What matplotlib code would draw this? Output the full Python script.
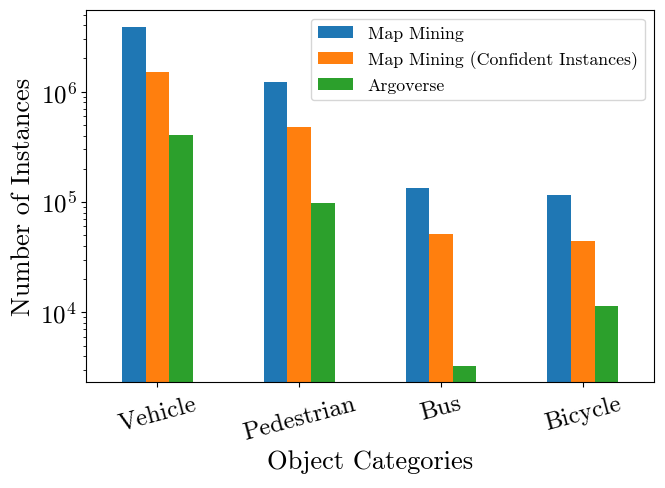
import numpy as np
import pandas as pd
import matplotlib
matplotlib.use("Agg")
import matplotlib.pyplot as plt

plt.rcParams['font.family'] = 'serif'
plt.rcParams['font.serif'] = ['cmr10']
plt.rcParams['mathtext.fontset'] = 'cm'
plt.rcParams['axes.formatter.use_mathtext'] = True

categories = ["Vehicle", "Pedestrian", "Bus", "Bicycle"]
map_mining = [3.88e6, 1.22e6, 1.34e5, 1.15e5]
map_mining_conf = [1.51e6, 4.79e5, 5.1e4, 4.4e4]
argoverse = [4.03e5, 9.7e4, 3.28e3, 1.13e4]

df = pd.DataFrame({
    "Map Mining": map_mining,
    "Map Mining (Confident Instances)": map_mining_conf,
    "Argoverse": argoverse,
}, index=categories)

fig, ax = plt.subplots(figsize=(6.65, 4.89), dpi=100)
fig.subplots_adjust(left=0.13, right=0.983, top=0.978, bottom=0.216)
df.plot.bar(ax=ax, logy=True, legend=False)
ax.set_ylim(2317, 5.53e6)
ax.set_xticklabels(categories, rotation=15, fontsize=18)
ax.tick_params(axis='y', labelsize=18)
ax.set_xlabel("Object Categories", fontsize=19)
ax.set_ylabel("Number of Instances", fontsize=19)
ax.legend(loc='upper right', fontsize=12.8)

fig.savefig("out.png", dpi=100)
